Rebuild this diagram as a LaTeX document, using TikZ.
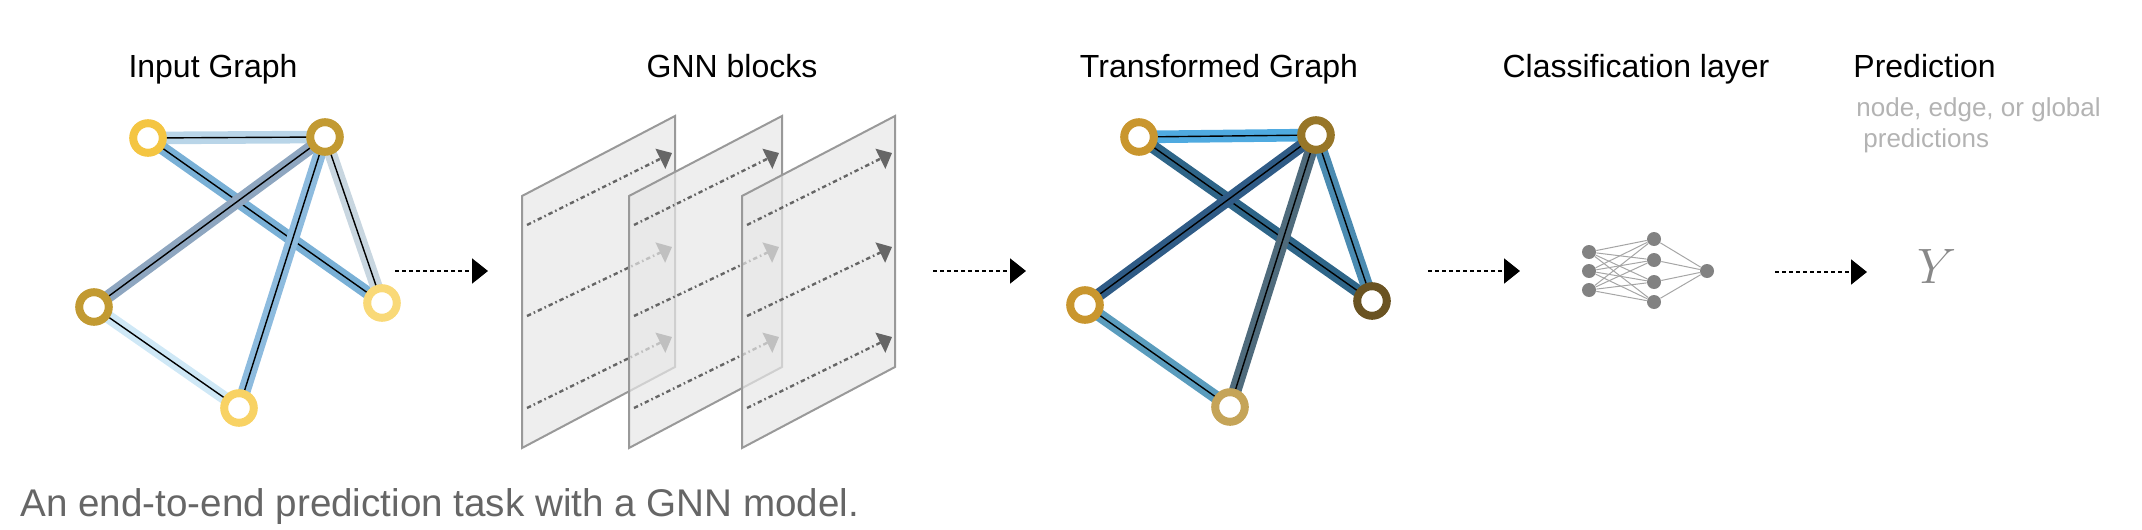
\documentclass[tikz,border=0pt]{standalone}
\usepackage{fontspec}
\setmainfont{Liberation Sans}
\usetikzlibrary{positioning,arrows.meta,backgrounds}

% vertex rings
\definecolor{inTL}{HTML}{F4C542}
\definecolor{inTR}{HTML}{C29A32}
\definecolor{inL}{HTML}{C29A32}
\definecolor{inR}{HTML}{F9D978}
\definecolor{inB}{HTML}{F8D264}
\definecolor{outTL}{HTML}{C9962E}
\definecolor{outTR}{HTML}{977628}
\definecolor{outL}{HTML}{C9962E}
\definecolor{outR}{HTML}{6A5322}
\definecolor{outB}{HTML}{C5A458}
% edge bands
\definecolor{inE1}{HTML}{B9D5E8}
\definecolor{inE2}{HTML}{79B0D6}
\definecolor{inE3}{HTML}{8EA6C0}
\definecolor{inE4}{HTML}{8DBBDE}
\definecolor{inE5}{HTML}{C8D6E0}
\definecolor{inE6}{HTML}{CFE8F6}
\definecolor{outE1}{HTML}{4FAAE0}
\definecolor{outE2}{HTML}{2E6588}
\definecolor{outE3}{HTML}{2F5B86}
\definecolor{outE4}{HTML}{4F6B7C}
\definecolor{outE5}{HTML}{4B8BB1}
\definecolor{outE6}{HTML}{5A9CBD}
% greys
\definecolor{panelfill}{HTML}{E7E7E7}
\definecolor{panelline}{HTML}{999999}
\definecolor{passgray}{HTML}{666666}
\definecolor{neurongray}{HTML}{828282}
\definecolor{synapsegray}{HTML}{A6A6A6}
\definecolor{notegray}{HTML}{B3B3B3}
\definecolor{yhatgray}{HTML}{888888}
\definecolor{captiongray}{HTML}{666666}

\begin{document}
\begin{tikzpicture}[
    x=0.5pt, y=-0.5pt,
    title/.style={font=\fontsize{16}{19}\selectfont, inner sep=0pt, anchor=base},
    subnote/.style={font=\fontsize{13}{15.5}\selectfont, text=notegray, inner sep=0pt, anchor=base west},
    vertex/.style={circle, draw=#1, line width=4pt, fill=white, minimum size=14.8pt, inner sep=0pt},
    band/.style={draw=#1, line width=6.3pt},
    core/.style={draw=black, line width=0.7pt},
    flow/.style={-{Triangle[length=8pt,width=12.5pt]}, line width=1pt, dash pattern=on 2pt off 1.5pt},
    panel/.style={draw=panelline, line width=1pt, fill=panelfill, fill opacity=0.7},
    pass/.style={-{Triangle[length=6.5pt,width=11pt]}, draw=passgray, line width=1.2pt,
        dash pattern=on 2.2pt off 1.5pt on 0.8pt off 1.5pt},
    neuron/.style={circle, fill=neurongray, minimum size=7pt, inner sep=0pt},
    synapse/.style={draw=synapsegray, line width=0.5pt}
]
\useasboundingbox (0,0) rectangle (2142,530);

% titles
\node[title] (tin) at (213,77) {Input Graph};
\node[title] (tgnn) at (732,77) {GNN blocks};
\node[title] (tout) at (1219,77) {Transformed Graph};
\node[title] (tcls) at (1636,77) {Classification layer};
\node[title, anchor=base west] (tpred) at (1853,77) {Prediction};
\node[subnote] (pnote1) at (1856,116) {node, edge, or global};
\node[subnote, below=15.5pt of pnote1.base west, anchor=base west, xshift=3.5pt] (pnote2) {predictions};

% input graph
\node[vertex=inTL] (i1) at (148,138) {};
\node[vertex=inTR] (i2) at (325,137) {};
\node[vertex=inL]  (i3) at (94,307) {};
\node[vertex=inR]  (i4) at (382,303) {};
\node[vertex=inB]  (i5) at (239,408) {};

% transformed graph
\node[vertex=outTL] (t1) at (1139,137) {};
\node[vertex=outTR] (t2) at (1316,135) {};
\node[vertex=outL]  (t3) at (1085,305) {};
\node[vertex=outR]  (t4) at (1372,301) {};
\node[vertex=outB]  (t5) at (1230,407) {};

\begin{scope}[on background layer]
\foreach \g/\pre in {i/in,t/out}{
    \foreach \u/\v [count=\e] in {1/2,1/4,2/3,2/5,2/4,3/5}{
        \draw[band=\pre E\e] (\g\u.center) -- (\g\v.center);
        \draw[core] (\g\u.center) -- (\g\v.center);
    }
}
\end{scope}

% GNN blocks
\foreach \px [count=\i] in {522,629,742}{
    \draw[panel] (\px,196) -- (\px+153,116) -- (\px+153,367) -- (\px,448) -- cycle;
    \foreach \ya/\yb [count=\j] in {225/153,316/247,408/337}{
        \coordinate (b\i s\j) at (\px+5,\ya);
        \coordinate (b\i e\j) at (\px+150,\yb);
        \draw[pass] (b\i s\j) -- (b\i e\j);
    }
}

% classification layer
\foreach \yy [count=\j] in {252,271,290} \node[neuron] (c1\j) at (1589,\yy) {};
\foreach \yy [count=\j] in {239,260,282,302} \node[neuron] (c2\j) at (1654,\yy) {};
\node[neuron] (c3) at (1707,271) {};
\begin{scope}[on background layer]
\foreach \a in {1,2,3}
    \foreach \b in {1,...,4} \draw[synapse] (c1\a) -- (c2\b);
\foreach \b in {1,...,4} \draw[synapse] (c2\b) -- (c3);
\end{scope}

% prediction
\node[text=yhatgray, font=\fontsize{28}{30}\selectfont, inner sep=0pt] (yhat) at (1937,266) {$Y$};

% flow arrows
\coordinate (a1s) at (395,271);  \coordinate (a1e) at (488,271);
\coordinate (a2s) at (933,271);  \coordinate (a2e) at (1026,271);
\coordinate (a3s) at (1428,271); \coordinate (a3e) at (1520,271);
\coordinate (a4s) at (1775,272); \coordinate (a4e) at (1867,272);
\foreach \k in {1,...,4} \draw[flow] (a\k s) -- (a\k e);

% caption
\node[text=captiongray, font=\fontsize{19.3}{22}\selectfont, inner sep=0pt, anchor=base west] (cap) at (20,516)
    {An end-to-end prediction task with a GNN model.};

\end{tikzpicture}
\end{document}
